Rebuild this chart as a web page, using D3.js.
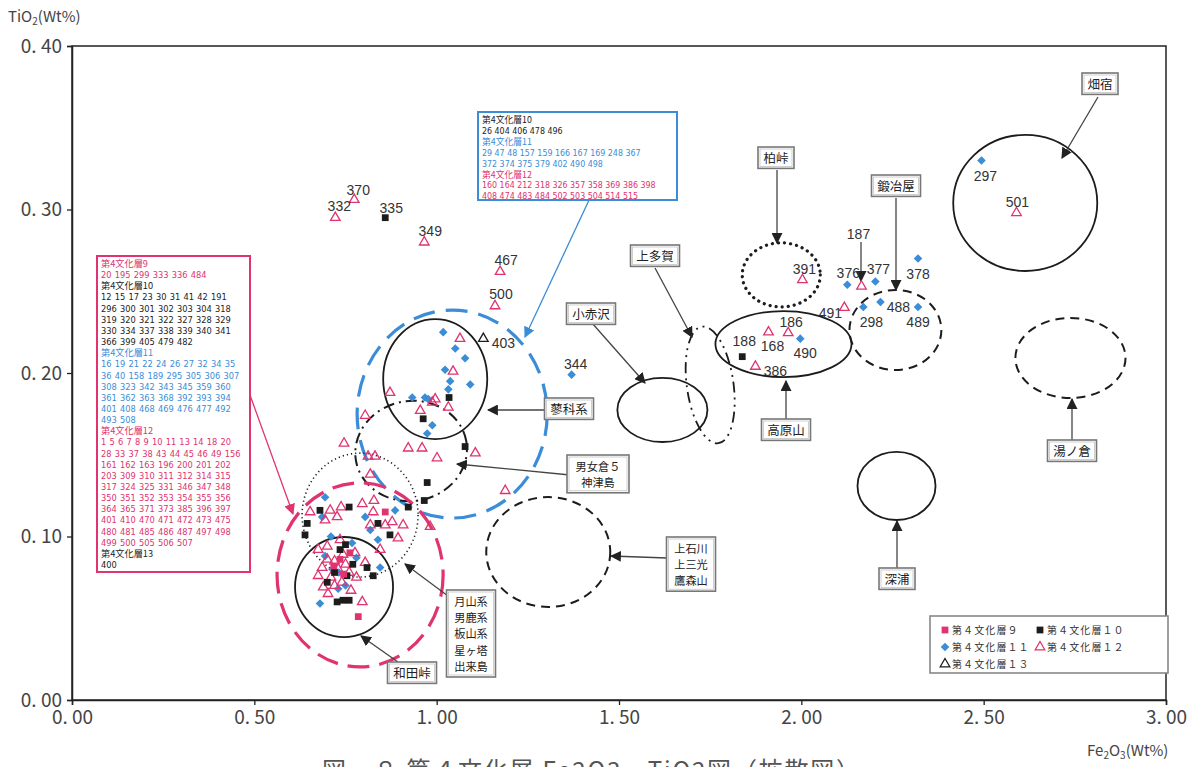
<!DOCTYPE html>
<html><head><meta charset="utf-8">
<script src="https://cdn.jsdelivr.net/npm/d3@7"></script>
<style>
body{margin:0;background:#fff;}
svg{display:block;}
</style></head><body>
<svg id="chart" width="1196" height="767"></svg>
<script>
// ---- Data: [Fe2O3 wt%, TiO2 wt%] ----
const layer9 = [[0.859,0.115],[0.785,0.051],[0.735,0.086],[0.762,0.090],[0.745,0.077],[0.718,0.082]];

const layer10 = [[0.859,0.295],[1.838,0.210],[1.034,0.185],[0.963,0.172],[1.078,0.155],[0.974,0.133],
  [0.966,0.122],[0.680,0.116],[0.760,0.118],[0.645,0.108],[0.639,0.101],[0.922,0.118],[0.839,0.108],
  [0.872,0.101],[0.809,0.081],[0.826,0.076],[0.754,0.076],[0.743,0.061],[0.727,0.060],[0.735,0.092],
  [0.760,0.061],[0.720,0.078],[0.700,0.072],[0.750,0.095],[0.770,0.083]];

const layer11 = [[1.370,0.199],[1.997,0.221],[2.494,0.330],[2.126,0.254],[2.203,0.256],[2.320,0.270],
  [2.170,0.2404],[2.217,0.2434],[2.320,0.2404],
  [1.018,0.225],[1.051,0.215],[1.078,0.209],[1.023,0.202],[1.037,0.195],[1.092,0.193],[1.032,0.190],
  [0.933,0.185],[0.968,0.185],[0.977,0.184],[0.988,0.168],[0.974,0.163],[0.694,0.124],[0.686,0.112],
  [0.804,0.112],[0.886,0.116],[0.818,0.104],[0.839,0.098],[0.845,0.081],[0.680,0.059],[0.694,0.088],
  [0.768,0.096],[0.714,0.080],[0.732,0.078],[0.750,0.070],[0.730,0.068],[0.780,0.087],[0.710,0.100]];

const layer12 = [[0.722,0.295],[0.774,0.306],[0.966,0.280],[1.174,0.262],[1.160,0.241],[2.003,0.257],
  [1.910,0.225],[1.964,0.2245],[1.874,0.204],[2.590,0.298],[2.165,0.253],[2.118,0.240],
  [1.064,0.221],[1.045,0.201],[0.872,0.188],[0.996,0.184],[0.988,0.182],[1.032,0.179],[0.955,0.177],
  [0.804,0.174],[1.106,0.151],[0.922,0.154],[0.960,0.154],[1.001,0.148],[1.188,0.128],[0.831,0.149],
  [0.746,0.157],[0.812,0.149],[0.818,0.138],
  [0.653,0.115],[0.708,0.116],[0.738,0.118],[0.694,0.110],[0.727,0.112],[0.796,0.120],[0.826,0.115],
  [0.828,0.122],[0.878,0.109],[0.859,0.107],[0.908,0.107],[0.982,0.106],[0.894,0.099],[0.818,0.107],
  [0.735,0.098],[0.845,0.092],[0.675,0.092],[0.686,0.081],[0.675,0.076],[0.689,0.069],[0.702,0.065],
  [0.796,0.060],[0.743,0.089],[0.776,0.090],[0.804,0.084],
  [0.720,0.085],[0.730,0.080],[0.750,0.083],[0.710,0.075],[0.740,0.072],[0.760,0.078],[0.700,0.086],
  [0.780,0.075],[0.720,0.070],[0.765,0.067],[0.700,0.094]];

const layer13 = [[1.128,0.221]];

// numbered specimens: [id, Fe2O3, TiO2]
const sampleLabels = [
  ["370",0.774,0.306],["332",0.722,0.295],["335",0.859,0.295],["349",0.966,0.280],
  ["467",1.174,0.262],["500",1.160,0.241],["403",1.128,0.221],["344",1.370,0.199],
  ["391",2.003,0.257],["188",1.838,0.210],["168",1.910,0.225],["186",1.964,0.2245],
  ["490",1.997,0.221],["386",1.874,0.204],["297",2.494,0.330],["501",2.590,0.298],
  ["187",2.165,0.253],["376",2.126,0.254],["377",2.203,0.256],["378",2.320,0.270],
  ["491",2.118,0.240],["298",2.170,0.2404],["488",2.217,0.2434],["489",2.320,0.2404]
];

const xTicks = [0,0.5,1,1.5,2,2.5,3];
const yTicks = [0,0.1,0.2,0.3,0.4];

const legendNames = ["第４文化層９","第４文化層１０","第４文化層１１","第４文化層１２","第４文化層１３"];

// ---- Layout ----
const svg = d3.select("#chart");
const x = d3.scaleLinear([0,3],[72,1166]);
const y = d3.scaleLinear([0,0.4],[700,46]);
const PINK = "#e0336f", BLUE = "#3a8dd6", BLACK = "#1c1c1c", INK = "#333";
const CJK = "'Noto Sans CJK JP', sans-serif";

// arrowheads
const defs = svg.append("defs");
function marker(id, color){
  defs.append("marker").attr("id",id).attr("viewBox","0 0 10 10").attr("refX",9).attr("refY",5)
    .attr("markerWidth",11).attr("markerHeight",11).attr("markerUnits","userSpaceOnUse").attr("orient","auto")
    .append("path").attr("d","M0,0L10,5L0,10z").attr("fill",color);
}
marker("ah","#222"); marker("ahP",PINK); marker("ahB",BLUE);

// frame
svg.append("rect").attr("x",x(0)).attr("y",y(0.4)).attr("width",x(3)-x(0)).attr("height",y(0)-y(0.4))
  .attr("fill","none").attr("stroke","#222").attr("stroke-width",1.5);

const fmt = d => d.toFixed(2).replace(".", ". ");
const gy = svg.append("g").attr("transform",`translate(${x(0)},0)`)
  .call(d3.axisLeft(y).tickValues(yTicks).tickSize(5).tickPadding(5).tickFormat(fmt));
const gx = svg.append("g").attr("transform",`translate(0,${y(0)})`)
  .call(d3.axisBottom(x).tickValues(xTicks).tickSize(5).tickPadding(6).tickFormat(fmt));
[gx,gy].forEach(g=>{
  g.select(".domain").attr("stroke","#222").attr("stroke-width",1.5);
  g.selectAll(".tick line").attr("stroke","#222").attr("stroke-width",1.3);
  g.selectAll(".tick text").attr("font-family",CJK).attr("font-size",19).attr("fill","#444");
});

// axis titles
const ty = svg.append("text").attr("x",8).attr("y",22).attr("font-family",CJK).attr("font-size",15).attr("fill","#444");
ty.append("tspan").text("TiO");
ty.append("tspan").attr("font-size",10).attr("dy",3).text("2");
ty.append("tspan").attr("dy",-3).text("(Wt%)");
const tx = svg.append("text").attr("x",1087).attr("y",756).attr("font-family",CJK).attr("font-size",15).attr("fill","#444");
tx.append("tspan").text("Fe");
tx.append("tspan").attr("font-size",10).attr("dy",3).text("2");
tx.append("tspan").attr("dy",-3).text("O");
tx.append("tspan").attr("font-size",10).attr("dy",3).text("3");
tx.append("tspan").attr("dy",-3).text("(Wt%)");

// caption (runs off the bottom edge of the page)
svg.append("text").attr("x",322).attr("y",779).attr("font-family",CJK).attr("font-size",24).attr("fill","#555")
  .attr("textLength",538).attr("lengthAdjust","spacing")
  .text("図－８ 第４文化層 Fe2O3－TiO2図（拡散図）");

// ---- source-field outlines (data units) ----
const fields = [
  {cx:2.614, cy:0.304, rx:0.1975, ry:0.0416, style:"solid"},          // 畑宿
  {cx:1.945, cy:0.260, rx:0.107, ry:0.0196, style:"bigdot"},          // 柏峠
  {cx:2.258, cy:0.2263, rx:0.126, ry:0.0245, style:"dash"},           // 鍛冶屋
  {cx:1.951, cy:0.2177, rx:0.1866, ry:0.0202, style:"solid"},         // 高原山
  {cx:1.750, cy:0.1927, rx:0.064, ry:0.0360, style:"dashdotdot", rot:-8}, // 上多賀
  {cx:1.619, cy:0.1774, rx:0.1235, ry:0.0196, style:"solid"},         // 小赤沢
  {cx:2.738, cy:0.2092, rx:0.151, ry:0.0245, style:"dash"},           // 湯ノ倉
  {cx:2.261, cy:0.1309, rx:0.107, ry:0.0208, style:"solid"},          // 深浦
  {cx:1.306, cy:0.0905, rx:0.170, ry:0.0336, style:"dash"},           // 上石川
  {cx:1.0425, cy:0.1749, rx:0.2606, ry:0.0636, style:"blue"},         // 第4文化層11 range
  {cx:0.996, cy:0.1963, rx:0.1427, ry:0.0367, style:"solid"},         // 蓼科系
  {cx:0.930, cy:0.1523, rx:0.1536, ry:0.0306, style:"dashdot", rot:-10}, // 男女倉
  {cx:0.790, cy:0.1131, rx:0.159, ry:0.0379, style:"finedot"},        // 月山系 etc.
  {cx:0.790, cy:0.0765, rx:0.2277, ry:0.0563, style:"pink"},          // 第4文化層12 range
  {cx:0.746, cy:0.0691, rx:0.1344, ry:0.0306, style:"solid"}          // 和田峠
];
const styles = {
  solid:{stroke:BLACK,w:1.8,dash:null},
  bigdot:{stroke:BLACK,w:3.2,dash:"0.1 6",cap:"round"},
  dash:{stroke:BLACK,w:2,dash:"9 6"},
  dashdot:{stroke:BLACK,w:2,dash:"11 5 2 5"},
  dashdotdot:{stroke:BLACK,w:1.8,dash:"11 5 2 5 2 5"},
  finedot:{stroke:BLACK,w:1.6,dash:"1.2 3"},
  blue:{stroke:BLUE,w:3.2,dash:"22 11"},
  pink:{stroke:PINK,w:3.2,dash:"22 10"}
};
svg.append("g").selectAll("ellipse").data(fields).join("ellipse")
  .attr("cx",d=>x(d.cx)).attr("cy",d=>y(d.cy))
  .attr("rx",d=>x(d.cx+d.rx)-x(d.cx)).attr("ry",d=>y(d.cy-d.ry)-y(d.cy))
  .attr("transform",d=>d.rot?`rotate(${d.rot},${x(d.cx)},${y(d.cy)})`:null)
  .attr("fill","none")
  .attr("stroke",d=>styles[d.style].stroke).attr("stroke-width",d=>styles[d.style].w)
  .attr("stroke-dasharray",d=>styles[d.style].dash).attr("stroke-linecap",d=>styles[d.style].cap||"butt");

// ---- arrows ----
const arrows = [
  [1098,97,1062,158,"ah"],[777,170,777,243,"ah"],[896,198,896,290,"ah"],[861,242,861,281,"ah"],
  [655,268,692,337,"ah"],[592,323,645,383,"ah"],[546,410,488,410,"ah"],[570,475,457,464,"ah"],
  [786,419,786,381,"ah"],[1072,440,1072,399,"ah"],[897,568,897,521,"ah"],[667,558,611,556,"ah"],
  [448,596,405,564,"ah"],[398,662,361,636,"ah"],
  [250,395,293,514,"ahP"],[590,198,525,337,"ahB"]
];
svg.append("g").selectAll("line").data(arrows).join("line")
  .attr("x1",d=>d[0]).attr("y1",d=>d[1]).attr("x2",d=>d[2]).attr("y2",d=>d[3])
  .attr("stroke",d=>d[4]==="ahP"?PINK:d[4]==="ahB"?BLUE:"#444").attr("stroke-width",1.3)
  .attr("marker-end",d=>`url(#${d[4]})`);

// ---- labelled boxes ----
const boxes = [
  {t:["畑宿"],cx:1100,top:73},{t:["柏峠"],cx:776,top:147},{t:["鍛冶屋"],cx:896,top:175},
  {t:["上多賀"],cx:655,top:245},{t:["小赤沢"],cx:591,top:303},{t:["蓼科系"],cx:569,top:398},
  {t:["男女倉５","神津島"],cx:598,top:455},{t:["高原山"],cx:786,top:419},{t:["湯ノ倉"],cx:1072,top:440},
  {t:["深浦"],cx:897,top:568},{t:["上石川","上三光","鷹森山"],cx:691,top:537},
  {t:["月山系","男鹿系","板山系","星ヶ塔","出来島"],cx:471,top:590},{t:["和田峠"],cx:412,top:662}
];
const gb = svg.append("g").attr("font-family",CJK).attr("fill","#222");
boxes.forEach(b=>{
  const multi = b.t.length > 1, fs = multi ? 11.2 : 12.5, lh = 16.4;
  const w = d3.max(b.t,s=>s.length)*13+10, h = b.t.length*lh+5;
  gb.append("rect").attr("x",b.cx-w/2).attr("y",b.top).attr("width",w).attr("height",h)
    .attr("fill","#fff").attr("stroke","#777").attr("stroke-width",1.6);
  gb.append("rect").attr("x",b.cx-w/2+2).attr("y",b.top+2).attr("width",w-4).attr("height",h-4)
    .attr("fill","none").attr("stroke","#bbb").attr("stroke-width",0.7);
  b.t.forEach((s,i)=>gb.append("text").attr("x",b.cx).attr("y",b.top+15.5+i*lh)
    .attr("font-size",fs).attr("text-anchor","middle").text(s));
});

// ---- specimen lists ----
const list1 = [
  ["第4文化層9",PINK],["20 195 299 333 336 484",PINK],
  ["第4文化層10",BLACK],["12 15 17 23 30 31 41 42 191",BLACK],["296 300 301 302 303 304 318",BLACK],
  ["319 320 321 322 327 328 329",BLACK],["330 334 337 338 339 340 341",BLACK],["366 399 405 479 482",BLACK],
  ["第4文化層11",BLUE],["16 19 21 22 24 26 27 32 34 35",BLUE],["36 40 158 189 295 305 306 307",BLUE],
  ["308 323 342 343 345 359 360",BLUE],["361 362 363 368 392 393 394",BLUE],["401 408 468 469 476 477 492",BLUE],
  ["493 508",BLUE],
  ["第4文化層12",PINK],["1 5 6 7 8 9 10 11 13 14 18 20",PINK],["28 33 37 38 43 44 45 46 49 156",PINK],
  ["161 162 163 196 200 201 202",PINK],["203 309 310 311 312 314 315",PINK],["317 324 325 331 346 347 348",PINK],
  ["350 351 352 353 354 355 356",PINK],["364 365 371 373 385 396 397",PINK],["401 410 470 471 472 473 475",PINK],
  ["480 481 485 486 487 497 498",PINK],["499 500 505 506 507",PINK],
  ["第4文化層13",BLACK],["400",BLACK]
];
const list2 = [
  ["第4文化層10",BLACK],["26 404 406 478 496",BLACK],
  ["第4文化層11",BLUE],["29 47 48 157 159 166 167 169 248 367",BLUE],["372 374 375 379 402 490 498",BLUE],
  ["第4文化層12",PINK],["160 164 212 318 326 357 358 369 386 398",PINK],["408 474 483 484 502 503 504 514 515",PINK]
];
function listBox(items, bx, by, bw, bh, border, lh, fs, ws){
  svg.append("rect").attr("x",bx).attr("y",by).attr("width",bw).attr("height",bh)
    .attr("fill","#fff").attr("stroke",border).attr("stroke-width",2);
  const g = svg.append("g").attr("font-family","'DejaVu Sans Condensed','DejaVu Sans', sans-serif").attr("font-size",fs);
  items.forEach((it,i)=>g.append("text").attr("x",bx+4).attr("y",by+11+i*lh).attr("fill",it[1])
    .attr("word-spacing",ws).attr("font-family",it[0].startsWith("第")?CJK:null).text(it[0]));
}
listBox(list1, 97, 256, 153, 316, PINK, 11.15, 9.2, 0.6);
listBox(list2, 478, 112, 199, 88, BLUE, 10.9, 8.8, 0);

// ---- symbols ----
const diamondPath = (() => { const r = 4.3; return `M0,${-r}L${r},0L0,${r}L${-r},0Z`; })();
const sym = {
  sq: d3.symbol(d3.symbolSquare, 46)(),
  dia: diamondPath,
  tri: d3.symbol(d3.symbolTriangle, 40)()
};
const gp = svg.append("g");
function plot(data, shape, fill, stroke){
  gp.selectAll(null).data(data).join("path")
    .attr("transform",d=>`translate(${x(d[0])},${y(d[1])})`)
    .attr("d",sym[shape]).attr("fill",fill).attr("stroke",stroke).attr("stroke-width",stroke==="none"?0:1.3);
}
plot(layer11,"dia",BLUE,"none");
plot(layer12,"tri","none",PINK);
plot(layer10,"sq",BLACK,"none");
plot(layer9,"sq",PINK,"none");
plot(layer13,"tri","none",BLACK);

// specimen numbers
const offs = {"370":[4,-10],"332":[4,-12],"335":[6,-10],"349":[6,-11],"467":[6,-12],"500":[6,-12],
  "403":[20,4],"344":[4,-11],"391":[2,-11],"188":[2,-16],"168":[4,14],"186":[3,-11],"490":[5,14],
  "386":[20,5],"297":[4,16],"501":[1,-11],"187":[-3,-52],"376":[1,-12],"377":[3,-12],"378":[0,16],
  "491":[-14,5],"298":[8,15],"488":[18,5],"489":[0,15]};
svg.append("g").attr("font-family","'Liberation Sans Narrow','Liberation Sans',sans-serif").attr("font-size",14).attr("fill",INK)
  .attr("text-anchor","middle")
  .selectAll("text").data(sampleLabels).join("text")
  .attr("x",d=>x(d[1])+offs[d[0]][0]).attr("y",d=>y(d[2])+offs[d[0]][1]).attr("dy","0.35em").text(d=>d[0]);

// ---- legend ----
svg.append("rect").attr("x",930).attr("y",616).attr("width",238).attr("height",57)
  .attr("fill","#fff").attr("stroke","#888").attr("stroke-width",1.6);
const legendItems = [
  {name:legendNames[0],shape:"sq",fill:PINK,stroke:"none",lx:945,ly:630},
  {name:legendNames[1],shape:"sq",fill:BLACK,stroke:"none",lx:1040,ly:630},
  {name:legendNames[2],shape:"dia",fill:BLUE,stroke:"none",lx:945,ly:647},
  {name:legendNames[3],shape:"tri",fill:"none",stroke:PINK,lx:1040,ly:647},
  {name:legendNames[4],shape:"tri",fill:"none",stroke:BLACK,lx:945,ly:664}
];
const gl = svg.append("g");
legendItems.forEach(it=>{
  gl.append("path").attr("transform",`translate(${it.lx},${it.ly})`).attr("d",sym[it.shape])
    .attr("fill",it.fill).attr("stroke",it.stroke).attr("stroke-width",it.stroke==="none"?0:1.3);
  gl.append("text").attr("x",it.lx+7).attr("y",it.ly+4).attr("font-family",CJK).attr("font-size",10)
    .attr("letter-spacing",1.1).attr("fill","#333").text(it.name);
});
</script>
</body></html>
